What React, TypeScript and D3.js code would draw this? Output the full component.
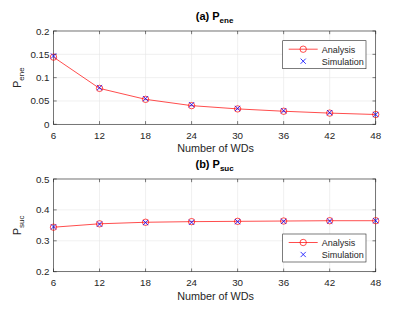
import React, { useEffect, useRef } from 'react';
import * as d3 from 'd3';

const wds = [6, 12, 18, 24, 30, 36, 42, 48];
const eneAnalysis = [0.144, 0.077, 0.0535, 0.040, 0.033, 0.028, 0.024, 0.021];
const eneSimulation = [0.1465, 0.0785, 0.055, 0.042, 0.034, 0.029, 0.025, 0.021];
const sucAnalysis = [0.344, 0.355, 0.360, 0.362, 0.363, 0.364, 0.365, 0.365];
const sucSimulation = [0.345, 0.354, 0.359, 0.360, 0.362, 0.363, 0.364, 0.365];
const eneTicks = [0, 0.05, 0.1, 0.15, 0.2];
const sucTicks = [0.2, 0.3, 0.4, 0.5];

const FONT = 'Liberation Sans, Arial, sans-serif';
const AX = '#262626';

function App() {
  const ref = useRef<SVGSVGElement>(null);

  useEffect(() => {
    const svg = d3.select(ref.current);
    svg.selectAll('*').remove();

    const left = 53.5, right = 375.7;
    const x = d3.scaleLinear().domain([6, 48]).range([left, right]);

    const panel = (opts: any) => {
      const { top, bottom, domain, ticks, analysis, simulation, title, sub, legendY } = opts;
      const y = d3.scaleLinear().domain(domain).range([bottom, top]);
      const g = svg.append('g');

      g.append('rect').attr('x', left).attr('y', top)
        .attr('width', right - left).attr('height', bottom - top).attr('fill', '#fff');

      // grid
      g.selectAll('.gx').data(wds).join('line')
        .attr('x1', d => x(d)).attr('x2', d => x(d))
        .attr('y1', top).attr('y2', bottom)
        .attr('stroke', '#e6e6e6').attr('stroke-width', 0.6);
      g.selectAll('.gy').data(ticks).join('line')
        .attr('x1', left).attr('x2', right)
        .attr('y1', (d: number) => y(d)).attr('y2', (d: number) => y(d))
        .attr('stroke', '#e6e6e6').attr('stroke-width', 0.6);

      // ticks inward
      wds.forEach(d => {
        g.append('line').attr('x1', x(d)).attr('x2', x(d)).attr('y1', bottom).attr('y2', bottom - 3.2)
          .attr('stroke', AX).attr('stroke-width', 0.6);
        g.append('line').attr('x1', x(d)).attr('x2', x(d)).attr('y1', top).attr('y2', top + 3.2)
          .attr('stroke', AX).attr('stroke-width', 0.6);
        g.append('text').attr('x', x(d)).attr('y', bottom + 14.5)
          .attr('text-anchor', 'middle').attr('font-size', 9.8).attr('font-family', FONT)
          .attr('fill', AX).text(d);
      });
      ticks.forEach((d: number) => {
        g.append('line').attr('x1', left).attr('x2', left + 3.2).attr('y1', y(d)).attr('y2', y(d))
          .attr('stroke', AX).attr('stroke-width', 0.6);
        g.append('line').attr('x1', right).attr('x2', right - 3.2).attr('y1', y(d)).attr('y2', y(d))
          .attr('stroke', AX).attr('stroke-width', 0.6);
        g.append('text').attr('x', left - 4).attr('y', y(d) + 3.5)
          .attr('text-anchor', 'end').attr('font-size', 9.8).attr('font-family', FONT)
          .attr('fill', AX).text(d3.format('~g')(d));
      });

      g.append('rect').attr('x', left).attr('y', top)
        .attr('width', right - left).attr('height', bottom - top)
        .attr('fill', 'none').attr('stroke', AX).attr('stroke-width', 0.6);

      // line + markers
      const pts = wds.map((w, i) => [x(w), y(analysis[i])] as [number, number]);
      g.append('path').attr('d', d3.line()(pts)).attr('fill', 'none')
        .attr('stroke', '#ff0000').attr('stroke-width', 0.7);
      pts.forEach(p => {
        g.append('circle').attr('cx', p[0]).attr('cy', p[1]).attr('r', 3.2)
          .attr('fill', 'none').attr('stroke', '#ff0000').attr('stroke-width', 0.7);
      });
      const cross = (gg: any, cx: number, cy: number) => {
        const s = 2.6;
        gg.append('path').attr('d', `M${cx - s},${cy - s}L${cx + s},${cy + s}M${cx - s},${cy + s}L${cx + s},${cy - s}`)
          .attr('stroke', '#0000ff').attr('stroke-width', 0.8).attr('fill', 'none');
      };
      wds.forEach((w, i) => cross(g, x(w), y(simulation[i])));

      // title
      const t = g.append('text').attr('x', (left + right) / 2).attr('y', top - 11)
        .attr('text-anchor', 'middle').attr('font-size', 11).attr('font-weight', 'bold')
        .attr('font-family', FONT).attr('fill', '#000');
      t.append('tspan').text(title + ' P');
      t.append('tspan').attr('font-size', 8).attr('dy', 3).text(sub);

      // x label
      g.append('text').attr('x', (left + right) / 2 + 1).attr('y', bottom + 28)
        .attr('text-anchor', 'middle').attr('font-size', 10.8).attr('font-family', FONT)
        .attr('fill', AX).text('Number of WDs');

      // y label
      const cy = (top + bottom) / 2;
      const yl = g.append('text').attr('transform', `translate(21,${cy}) rotate(-90)`)
        .attr('text-anchor', 'middle').attr('font-size', 11).attr('font-family', FONT).attr('fill', AX);
      yl.append('tspan').text('P');
      yl.append('tspan').attr('font-size', 8).attr('dy', 3).text(sub);

      // legend
      const lx = 282.7, lw = 83.3, lh = 28;
      const lg = g.append('g').attr('transform', `translate(${lx},${legendY})`);
      lg.append('rect').attr('width', lw).attr('height', lh).attr('fill', '#fff')
        .attr('stroke', AX).attr('stroke-width', 0.6);
      lg.append('line').attr('x1', 6).attr('x2', 35).attr('y1', 8.5).attr('y2', 8.5)
        .attr('stroke', '#ff0000').attr('stroke-width', 0.7);
      lg.append('circle').attr('cx', 20.5).attr('cy', 8.5).attr('r', 3.2)
        .attr('fill', 'none').attr('stroke', '#ff0000').attr('stroke-width', 0.7);
      cross(lg, 20.5, 20.5);
      lg.append('text').attr('x', 39).attr('y', 12).attr('font-size', 9).attr('font-family', FONT)
        .attr('fill', AX).text('Analysis');
      lg.append('text').attr('x', 39).attr('y', 24).attr('font-size', 9).attr('font-family', FONT)
        .attr('fill', AX).text('Simulation');
    };

    panel({ top: 31, bottom: 124.3, domain: [0, 0.2], ticks: eneTicks, analysis: eneAnalysis,
      simulation: eneSimulation, title: '(a)', sub: 'ene', legendY: 40.7 });
    panel({ top: 179, bottom: 271.7, domain: [0.2, 0.5], ticks: sucTicks, analysis: sucAnalysis,
      simulation: sucSimulation, title: '(b)', sub: 'suc', legendY: 234 });
  }, []);

  return (
    <svg ref={ref} width={415} height={312}
      style={{ position: 'absolute', left: 0, top: 0, background: '#fff' }} />
  );
}

export default App;
